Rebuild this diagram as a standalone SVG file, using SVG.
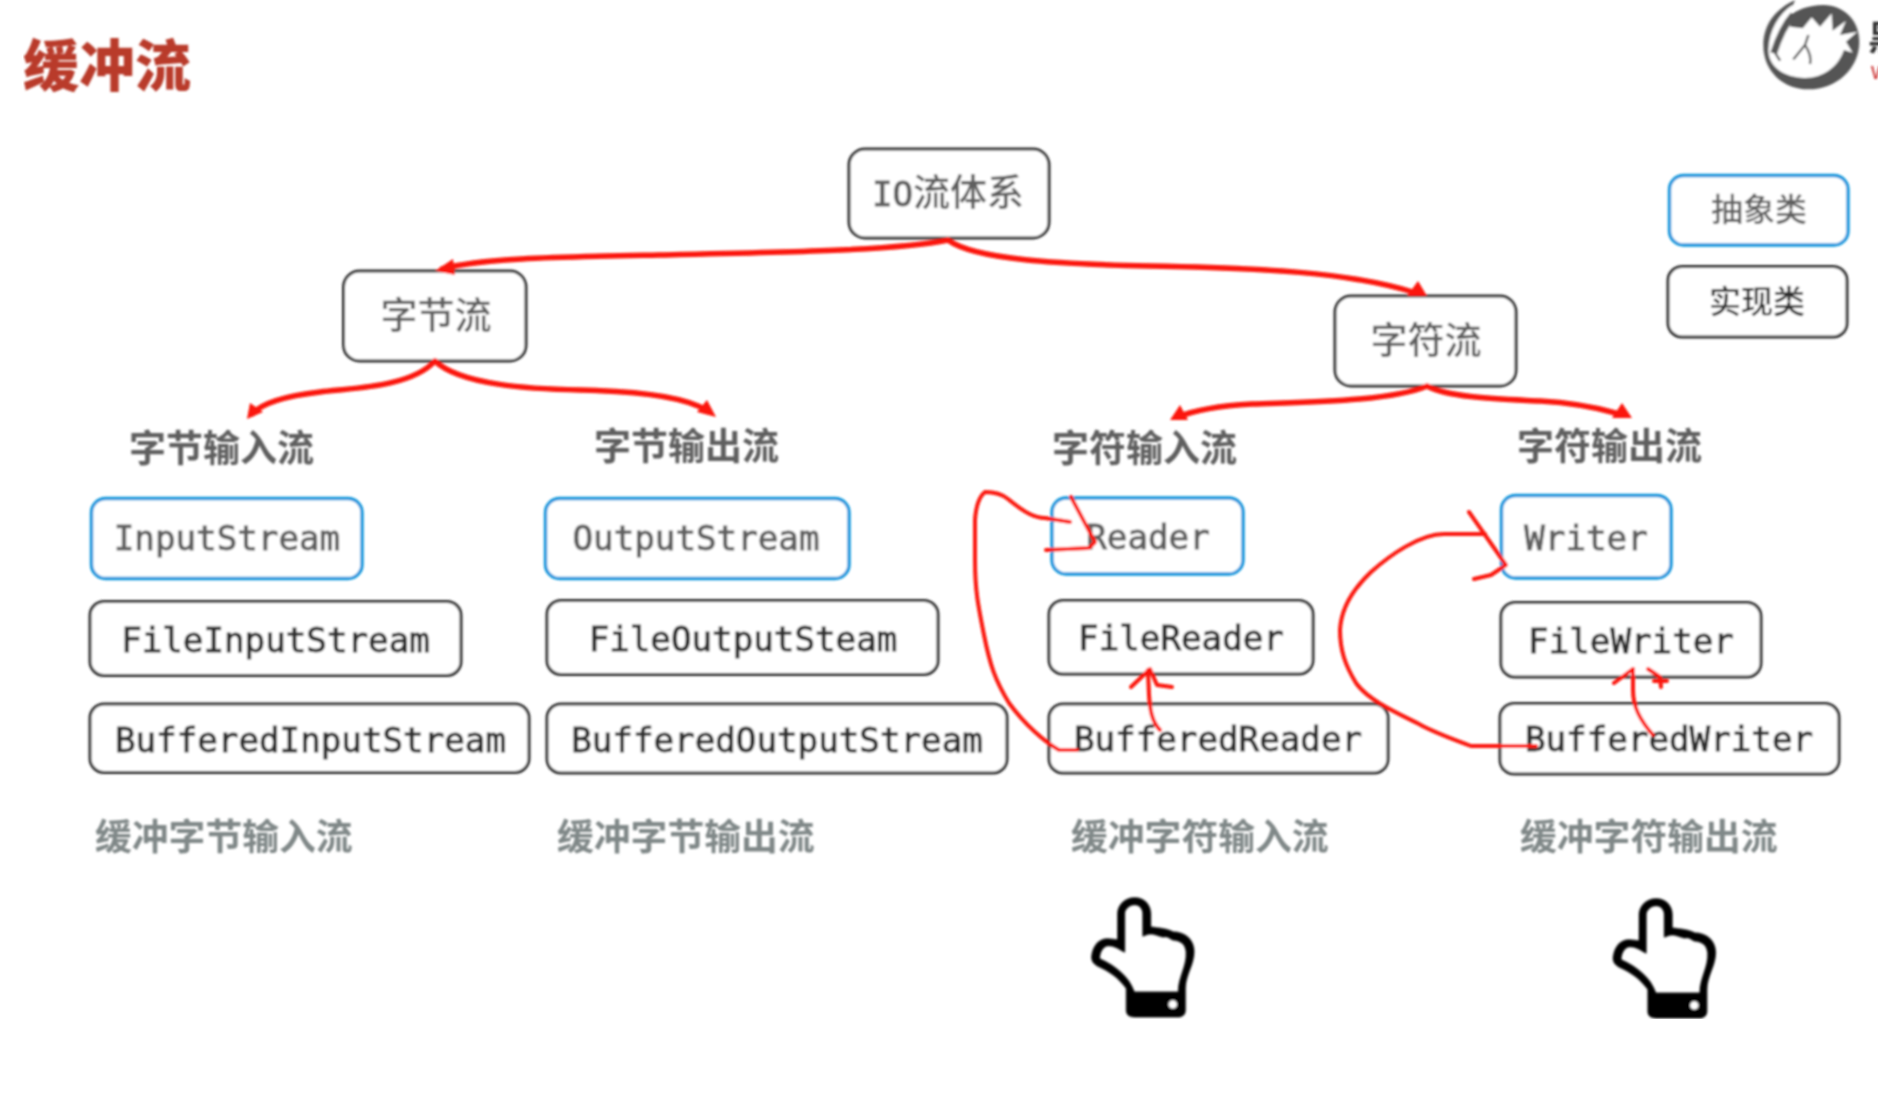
<svg xmlns="http://www.w3.org/2000/svg" xmlns:xlink="http://www.w3.org/1999/xlink" width="1878" height="1110" viewBox="0 0 1878 1110">
<style>
.b{fill:#fff;stroke:#333;stroke-width:3}
.a{fill:#fff;stroke:#1296dc;stroke-width:3.400}
.m{font-family:"DejaVu Sans Mono","Liberation Mono",monospace;font-size:34.2px;text-anchor:middle;stroke-width:0.9px}
.d{fill:#2e2e2e;stroke:#2e2e2e}
.g{fill:#5e5e5e;stroke:#5e5e5e}
.c{font-family:"Noto Sans CJK SC","Noto Sans",sans-serif;text-anchor:middle}
.n{font-size:37px;fill:#5e5e5e;font-weight:500}
.h{font-size:37px;font-weight:700;fill:#5e5e5e;text-anchor:start}
.l{font-size:36.8px;font-weight:700;fill:#808888;text-anchor:start}
.r{fill:none;stroke:#fb1508;stroke-linecap:round;stroke-linejoin:round}
.w{stroke-width:5.500}
.t{stroke-width:4}
.f{fill:#fb1508}
</style>
<defs>
<filter id="soft" x="0" y="0" width="100%" height="100%"><feGaussianBlur stdDeviation="0.8"/></filter>
<g id="hand" transform="translate(1060 880) scale(0.4337 0.3333)">
<path fill-rule="evenodd" fill="#000" d="M172 52C195 52 210 75 210 100L210 140C225 143 245 143 262 155C285 155 310 175 310 215C310 255 290 285 290 325L290 390C290 405 282 412 270 412L172 412C160 412 152 405 152 392L152 325C135 295 115 275 85 258C75 250 72 242 72 230C75 195 90 175 110 175L132 178L132 100C132 75 150 52 172 52ZM172 75C160 75 150 88 150 100L150 218C135 208 125 198 112 198C100 198 93 215 92 235C130 258 160 290 172 335L272 335C272 290 292 260 290 215C288 195 280 185 265 182C255 182 250 168 240 172C230 172 225 165 210 163C200 163 195 168 190 170L190 100C190 88 184 75 172 75Z"/>
<ellipse cx="260" cy="373" rx="10" ry="13" fill="#fff"/>
</g>
</defs>
<rect width="1878" height="1110" fill="#fff"/>
<g filter="url(#soft)">
<g id="title"><text class="c" x="107" y="86" font-size="56" font-weight="900" fill="#b93a2b">缓冲流</text></g>
<g id="logo" transform="translate(1740 0) scale(0.3333)">
<path fill="#555" d="M165 0C100 30 70 80 70 135C70 215 130 268 205 268C290 268 358 205 358 125C358 60 310 15 250 15C205 15 170 30 145 50Z"/>
<path fill="#fff" d="M158 14C115 42 87 90 85 150C85 200 130 232 195 234C250 234 295 200 312 150L338 158L318 125L352 95L300 105L318 62L278 92L275 40L240 80L215 52L188 85L150 80Z"/>
<path fill="none" stroke="#555" stroke-width="20" d="M160 44C128 80 112 125 101 160"/>
<path fill="none" stroke="#444" stroke-width="6" d="M106 160L120 182M205 105L195 135L160 178M195 135C205 150 215 170 210 192"/>
</g>
<g id="logo-text"><text x="1868" y="50" font-family="Noto Sans CJK SC,sans-serif" font-size="34" font-weight="700" fill="#333">黑</text><text x="1871" y="79" font-family="Liberation Sans,sans-serif" font-size="24" fill="#c33">w</text></g>

<g id="node-io"><rect class="b" x="849" y="149" width="200" height="89" rx="16"/><text class="m g" x="948" y="206"><tspan>IO</tspan><tspan class="c" font-size="37" font-weight="500" stroke="none" style="font-family:'Noto Sans CJK SC',sans-serif">流体系</tspan></text></g>
<g id="node-byte"><rect class="b" x="343.500" y="271" width="182.500" height="90" rx="16"/><text class="c n" x="436" y="329">字节流</text></g>
<g id="node-char"><rect class="b" x="1335" y="296" width="181" height="90" rx="16"/><text class="c n" x="1426" y="354">字符流</text></g>
<g id="legend-abstract"><rect class="a" x="1669.500" y="175.500" width="178.500" height="69.500" rx="14"/><text class="c" x="1759" y="221" font-size="32" font-weight="500" fill="#5e5e5e">抽象类</text></g>
<g id="legend-impl"><rect class="b" x="1668" y="266.500" width="179" height="70.500" rx="14"/><text class="c" x="1757" y="313" font-size="32" font-weight="500" fill="#2e2e2e">实现类</text></g>

<g id="head-1"><text class="c h" x="129" y="462">字节输入流</text></g>
<g id="head-2"><text class="c h" x="594" y="460">字节输出流</text></g>
<g id="head-3"><text class="c h" x="1052" y="462">字符输入流</text></g>
<g id="head-4"><text class="c h" x="1517" y="460">字符输出流</text></g>

<g id="node-inputstream"><rect class="a" x="91.500" y="498.500" width="270.500" height="80" rx="14"/><text class="m g" x="227" y="550">InputStream</text></g>
<g id="node-fileinputstream"><rect class="b" x="90" y="601.500" width="371" height="74" rx="14"/><text class="m d" x="275.500" y="652">FileInputStream</text></g>
<g id="node-bufferedinputstream"><rect class="b" x="90" y="704" width="439" height="68.500" rx="14"/><text class="m d" x="310.500" y="752">BufferedInputStream</text></g>
<g id="node-outputstream"><rect class="a" x="545.500" y="498.500" width="303.500" height="80" rx="14"/><text class="m g" x="696" y="550">OutputStream</text></g>
<g id="node-fileoutputsteam"><rect class="b" x="547" y="600.500" width="391" height="74" rx="14"/><text class="m d" x="743" y="651">FileOutputSteam</text></g>
<g id="node-bufferedoutputstream"><rect class="b" x="547" y="704" width="460" height="69" rx="14"/><text class="m d" x="777" y="752">BufferedOutputStream</text></g>
<g id="node-reader"><rect class="a" x="1052" y="498" width="191" height="76" rx="14"/><text class="m g" x="1148" y="549">Reader</text></g>
<g id="node-filereader"><rect class="b" x="1049" y="600.500" width="264" height="73.500" rx="14"/><text class="m d" x="1181" y="650">FileReader</text></g>
<g id="node-bufferedreader"><rect class="b" x="1049" y="704" width="339" height="69" rx="14"/><text class="m d" x="1218" y="751">BufferedReader</text></g>
<g id="node-writer"><rect class="a" x="1501.500" y="495.500" width="169.500" height="82.500" rx="14"/><text class="m g" x="1586" y="550">Writer</text></g>
<g id="node-filewriter"><rect class="b" x="1501" y="602.500" width="260" height="74.500" rx="14"/><text class="m d" x="1631" y="653">FileWriter</text></g>
<g id="node-bufferedwriter"><rect class="b" x="1500" y="703.500" width="339" height="70.500" rx="14"/><text class="m d" x="1669" y="751">BufferedWriter</text></g>

<g id="label-1"><text class="c l" x="95" y="850">缓冲字节输入流</text></g>
<g id="label-2"><text class="c l" x="557" y="850">缓冲字节输出流</text></g>
<g id="label-3"><text class="c l" x="1071" y="850">缓冲字符输入流</text></g>
<g id="label-4"><text class="c l" x="1520" y="850">缓冲字符输出流</text></g>

<g id="hand-1"><use xlink:href="#hand" href="#hand"/></g>
<g id="hand-2"><use xlink:href="#hand" href="#hand" transform="translate(521.500 1)"/></g>

<g id="connectors">
<path class="r w" d="M948 240C900 250 800 252 659 255C560 257 480 258 442 269"/>
<polygon class="f" points="435,271 453,259 455,275"/>
<path class="r w" d="M948 240C975 260 1060 264 1150 266C1260 268 1350 272 1416 293"/>
<polygon class="f" points="1418,281 1407,296 1427,296"/>
<path class="r w" d="M435 361C410 388 350 388 320 392C285 396 262 403 252 414"/>
<polygon class="f" points="247,419 250,403 263,412"/>
<path class="r w" d="M435 361C460 385 530 389 580 390C640 391 685 397 706 410"/>
<polygon class="f" points="707,400 697,412 716,417"/>
<path class="r w" d="M1427 386C1390 402 1300 402 1252 404C1215 406 1195 410 1178 417"/>
<polygon class="f" points="1180,405 1170,420 1188,420"/>
<path class="r w" d="M1427 386C1450 398 1500 399 1540 401C1575 403 1600 408 1622 415"/>
<polygon class="f" points="1622,403 1612,418 1632,418"/>
<path class="r t" d="M1077 750L1059 750C1045 742 1025 725 1009 703C995 680 990 665 984 635C978 605 975 590 975 560L975 520C976 505 980 496 985 492C995 492 1002 494 1008 499C1025 513 1035 518 1045 518L1070 522"/>
<path class="r t" d="M1071 497L1095 542L1089 548L1046 550"/>
<path class="r t" d="M1536 746L1471 746C1450 738 1435 733 1419 724C1395 712 1368 700 1356 683C1345 665 1340 650 1340 630C1341 610 1352 590 1371 572C1390 555 1420 534 1444 534L1485 534"/>
<path class="r t" d="M1469 512L1506 565L1491 575L1474 579"/>
<path class="r t" d="M1160 730C1152 722 1150 710 1149 695L1148 670"/>
<path class="r t" d="M1131 687L1150 669L1157 685L1172 687"/>
<path class="r t" d="M1653 735C1640 720 1633 707 1633 690L1633 669"/>
<path class="r t" d="M1614 683L1633 669"/>
<path class="r t" d="M1648 669L1660 677L1661 687M1654 681L1667 681"/>
</g>
</g>
</svg>
